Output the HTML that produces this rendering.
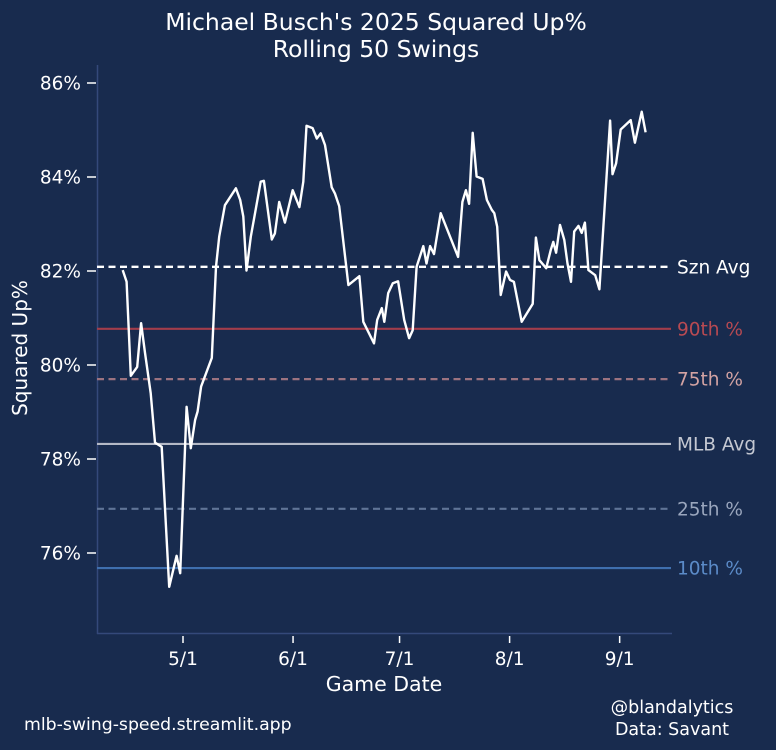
<!DOCTYPE html>
<html><head><meta charset="utf-8"><style>
body{margin:0;background:#182b4e;}
svg{display:block;font-family:"DejaVu Sans","Liberation Sans",sans-serif;}
</style></head><body>
<svg id="chart" width="776" height="750" viewBox="0 0 776 750">
<rect width="776" height="750" fill="#182b4e"/>
<text x="376" y="30" fill="#ffffff" font-size="23.5" text-anchor="middle">Michael Busch's 2025 Squared Up%</text>
<text x="376" y="57" fill="#ffffff" font-size="23.5" text-anchor="middle">Rolling 50 Swings</text>
<line x1="97.5" y1="65" x2="97.5" y2="634" stroke="#34497a" stroke-width="1.5"/>
<line x1="97" y1="633.5" x2="672" y2="633.5" stroke="#34497a" stroke-width="1.5"/>
<g id="yticks"></g><g id="xticks"></g><g id="refs"></g>
<path id="series" fill="none" stroke="#ffffff" stroke-width="2.4" stroke-linejoin="round"/>
<text x="0" y="0" transform="translate(27,348) rotate(-90)" fill="#ffffff" font-size="20" text-anchor="middle">Squared Up%</text>
<text x="384" y="691" fill="#ffffff" font-size="20.5" text-anchor="middle">Game Date</text>
<text x="24" y="730" fill="#ffffff" font-size="17.3">mlb-swing-speed.streamlit.app</text>
<text x="672" y="713" fill="#ffffff" font-size="17.5" text-anchor="middle">@blandalytics</text>
<text x="672" y="735" fill="#ffffff" font-size="17.5" text-anchor="middle">Data: Savant</text>
</svg>
<script>
// days since Apr 1, 2025
const days=[13.0,14.1,15.3,17.1,18.2,19.3,20.9,22.1,24.0,26.1,28.2,29.2,31.0,32.2,33.4,34.1,35.1,38.1,39.3,40.2,41.8,44.9,46.1,47.0,47.9,49.1,51.9,52.8,55.0,55.9,57.1,58.7,60.9,62.8,63.9,64.8,66.5,67.7,68.8,70.0,71.9,72.8,74.0,76.6,79.7,80.8,83.8,84.7,86.0,86.7,87.8,89.1,90.6,92.3,93.7,94.7,95.8,97.7,98.6,99.6,100.7,102.6,107.5,108.7,109.7,110.6,111.6,112.7,114.4,115.6,117.0,117.7,118.5,119.5,121.0,122.1,123.2,125.4,128.5,129.4,130.4,132.3,133.6,134.3,135.1,136.2,137.4,138.3,139.3,140.2,141.4,142.3,143.2,144.2,146.1,147.3,150.3,151.0,152.0,153.3,156.1,157.3,159.2,160.3];
const values=[82.02,81.77,79.77,79.96,80.89,80.26,79.4,78.35,78.26,75.28,75.94,75.57,79.11,78.23,78.83,79.01,79.54,80.15,82.09,82.73,83.4,83.76,83.51,83.16,82.01,82.73,83.9,83.92,82.67,82.8,83.47,83.03,83.72,83.36,83.9,85.09,85.04,84.82,84.93,84.68,83.78,83.65,83.38,81.7,81.89,80.92,80.46,80.96,81.21,80.92,81.53,81.74,81.78,80.96,80.57,80.74,82.09,82.53,82.16,82.53,82.36,83.23,82.3,83.47,83.72,83.43,84.94,84.01,83.96,83.51,83.3,83.23,82.94,81.49,81.99,81.81,81.77,80.92,81.3,82.71,82.23,82.06,82.45,82.62,82.39,82.98,82.66,82.16,81.77,82.84,82.96,82.81,83.03,82.02,81.91,81.61,85.2,84.06,84.29,85.01,85.21,84.73,85.39,84.95];
const yTicks=[76,78,80,82,84,86];
const xTickDays=[30,61,91,122,153];
const xTickLabels=["5/1","6/1","7/1","8/1","9/1"];
const refNames=["Szn Avg","90th %","75th %","MLB Avg","25th %","10th %"];
const refValues=[82.09,80.77,79.7,78.32,76.94,75.68];
const refColors=["#ffffff","#a23d4b","#9c7380","#b4b9c6","#5f7496","#3f6fae"];
const refLabelColors=["#ffffff","#b84a52","#d3a3a3","#c4c8d2","#9aa6bd","#5b8bc8"];
const refDash=[true,false,true,false,true,false];

const NS="http://www.w3.org/2000/svg";
const y=v=>83+(86-v)*47;
const x=d=>183+(d-30)*3.55;
function mk(tag,attrs,parent){const e=document.createElementNS(NS,tag);for(const k in attrs)e.setAttribute(k,attrs[k]);parent.appendChild(e);return e;}
const yt=document.getElementById('yticks');
yTicks.forEach(t=>{
  const l=mk('line',{x1:87,x2:96,y1:y(t),y2:y(t),stroke:'#fff','stroke-width':1.5},yt);
  
  
  const tx=mk('text',{x:81,y:y(t)+6.5,fill:'#fff','font-size':18.5,'text-anchor':'end'},yt);
  tx.textContent=t+'%';
  
  
});
const xt=document.getElementById('xticks');
xTickDays.forEach((d,i)=>{
  const l=mk('line',{x1:x(d),x2:x(d),y1:636,y2:643,stroke:'#fff','stroke-width':1.5},xt);
  
  
  const tx=mk('text',{x:x(d),y:665,fill:'#fff','font-size':18.5,'text-anchor':'middle'},xt);
  tx.textContent=xTickLabels[i];
  
  
});
const rf=document.getElementById('refs');
refValues.forEach((v,i)=>{
  const a={x1:97,x2:671,y1:y(v),y2:y(v),stroke:refColors[i],'stroke-width':i==0?2.4:2.2};
  if(refDash[i])a['stroke-dasharray']='7,4.5';
  const l=mk('line',a,rf);
  
  
  const tx=mk('text',{x:677,y:y(v)+6.5,fill:refLabelColors[i],'font-size':18.5},rf);
  tx.textContent=refNames[i];
  
  
});
document.getElementById('series').setAttribute('d',days.map((d,i)=>(i?'L':'M')+x(d).toFixed(1)+' '+y(values[i]).toFixed(1)).join(' '));
</script>
</body></html>
